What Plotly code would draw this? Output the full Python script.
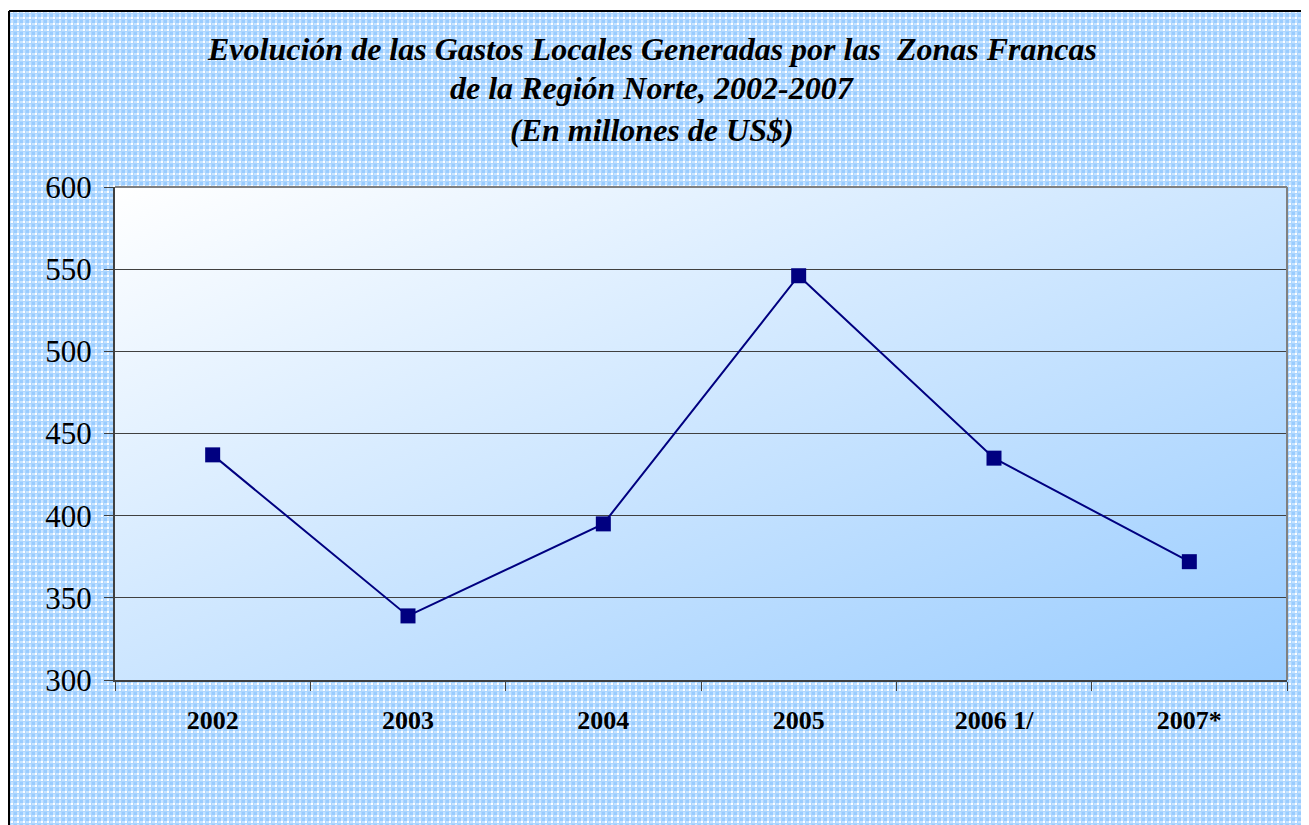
import base64
import plotly.graph_objects as go

years = ["2002", "2003", "2004", "2005", "2006 1/", "2007*"]
gastos = [437, 339, 395, 546, 435, 372]
y_ticks = [300, 350, 400, 450, 500, 550, 600]
title_lines = [
    "Evolución de las Gastos Locales Generadas por las&nbsp; Zonas Francas",
    "de la Región Norte, 2002-2007",
    "(En millones de US$)",
]

SERIF = "Liberation Serif, Times New Roman, Times, serif"

# page has an 8px body margin; figure spans 8..1309 x 8..825
OFF = 8
W, H = 1309 - OFF, 825 - OFF
L, R, T, B = 115 - OFF, 1287 - OFF, 187 - OFF, 680 - OFF
pw, ph = R - L, B - T

def svg_uri(svg):
    return "data:image/svg+xml;base64," + base64.b64encode(svg.encode()).decode()

bg_svg = f'''<svg xmlns="http://www.w3.org/2000/svg" width="{W}" height="{H}" viewBox="0 0 {W} {H}" preserveAspectRatio="none">
<defs><pattern id="p" x="0" y="0" width="6" height="6" patternUnits="userSpaceOnUse">
<rect x="0" y="0" width="6" height="6" fill="#ABD5FF"/>
<rect x="0" y="0" width="3" height="3" fill="#99CCFF"/>
<rect x="3" y="3" width="2" height="2" fill="#FFFFFF"/>
<rect x="3" y="0" width="2" height="3" fill="#C9E4FF"/>
<rect x="0" y="3" width="3" height="2" fill="#C9E4FF"/>
</pattern></defs>
<rect x="0" y="0" width="{W}" height="{H}" fill="#FFFFFF"/>
<rect x="1" y="3" width="{W}" height="{H}" fill="url(#p)"/>
<line x1="1" y1="3" x2="{W}" y2="3" stroke="#000" stroke-width="2"/>
<line x1="1" y1="3" x2="1" y2="{H}" stroke="#000" stroke-width="2"/>
</svg>'''

grad_svg = '''<svg xmlns="http://www.w3.org/2000/svg" width="100" height="100" viewBox="0 0 100 100" preserveAspectRatio="none">
<defs><linearGradient id="g" x1="0" y1="0" x2="1" y2="1">
<stop offset="0" stop-color="#FFFFFF"/><stop offset="1" stop-color="#99CCFF"/>
</linearGradient></defs>
<rect x="0" y="0" width="100" height="100" fill="url(#g)"/>
</svg>'''

fig = go.Figure()
fig.add_trace(go.Scatter(
    x=years, y=gastos, mode="lines+markers",
    line=dict(color="#000080", width=2),
    marker=dict(symbol="square", size=15, color="#000080"),
    showlegend=False, hoverinfo="x+y",
))

images = [
    dict(source=svg_uri(bg_svg), xref="paper", yref="paper",
         x=-L / pw, y=B / ph,
         sizex=W / pw, sizey=H / ph, xanchor="left", yanchor="top",
         sizing="stretch", layer="below"),
    dict(source=svg_uri(grad_svg), xref="paper", yref="paper",
         x=0, y=1, sizex=1, sizey=1, xanchor="left", yanchor="top",
         sizing="stretch", layer="below"),
]

title_y = [49 - OFF, 88 - OFF, 130 - OFF]
annotations = []
for txt, py in zip(title_lines, title_y):
    annotations.append(dict(
        text=f"<b><i>{txt}</i></b>", xref="paper", yref="paper",
        x=(652 - OFF - L) / pw, y=(B - py) / ph, xanchor="center", yanchor="middle",
        showarrow=False, font=dict(family=SERIF, size=32, color="#000"),
    ))

shapes = [
    dict(type="line", xref="paper", yref="paper", x0=0, x1=1, y0=1, y1=1,
         line=dict(color="#808080", width=2)),
    dict(type="line", xref="paper", yref="paper", x0=1, x1=1, y0=0, y1=1,
         line=dict(color="#808080", width=2)),
]

fig.update_layout(
    width=W, height=H,
    margin=dict(l=L, r=W - R, t=T, b=H - B),
    paper_bgcolor="#FFFFFF",
    plot_bgcolor="rgba(0,0,0,0)",
    images=images,
    annotations=annotations,
    shapes=shapes,
    font=dict(family=SERIF, color="#000"),
    xaxis=dict(
        type="category", tickson="boundaries", ticks="outside", ticklen=9,
        tickcolor="#404040", tickwidth=1, showgrid=False, showline=True,
        linecolor="#404040", linewidth=2, range=[-0.5, 5.5],
        tickfont=dict(family=SERIF, size=26, color="#000"),
        tickprefix="<b>", ticksuffix="</b>", ticklabelstandoff=16,
        zeroline=False,
    ),
    yaxis=dict(
        range=[300, 600], tickvals=y_ticks, ticks="outside", ticklen=9,
        tickcolor="#404040", showgrid=True, gridcolor="#404040", gridwidth=1,
        showline=True, linecolor="#404040", linewidth=2, zeroline=False,
        tickfont=dict(family=SERIF, size=31, color="#000"),
        ticklabelstandoff=6,
    ),
)

fig.write_html("out.html")
